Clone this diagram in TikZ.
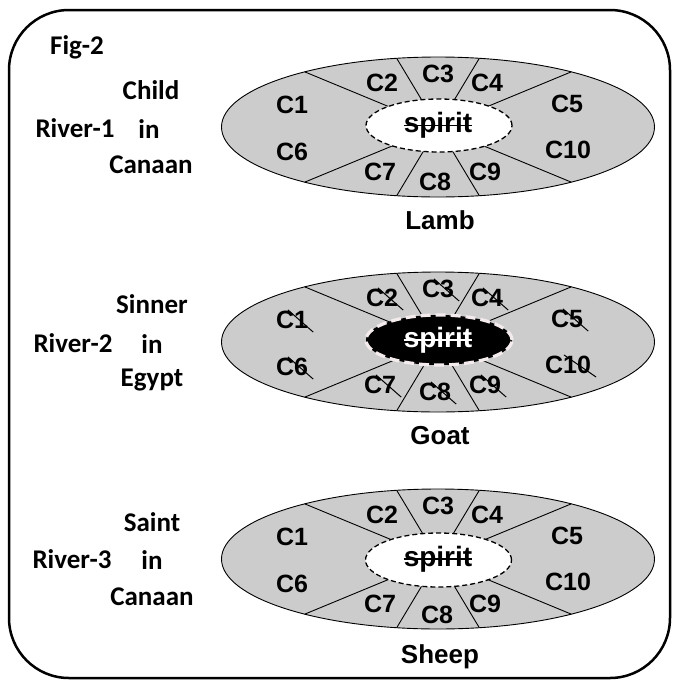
\documentclass[tikz,border=0pt]{standalone}
\usepackage{fontspec}
\setmainfont{Liberation Sans}
\newfontfamily\calfont{Carlito}
\usetikzlibrary{calc}
\definecolor{wheelgray}{HTML}{CCCCCC}
\definecolor{dashwhite}{HTML}{F4ECEC}
\tikzset{
  frame/.style={line width=2.5pt, rounded corners=60pt},
  wheel/.style={draw=black, line width=0.9pt, fill=wheelgray},
  ray/.style={line width=0.9pt},
  hub/.style={draw=black, line width=1.3pt, fill=white, dash pattern=on 5pt off 3pt},
  darkhub/.style={draw=dashwhite, line width=3.2pt, fill=black, dash pattern=on 10pt off 5pt},
  clab/.style={font=\fontsize{25}{28}\selectfont\bfseries, inner sep=0pt},
  spiritlab/.style={font=\fontsize{28}{32}\selectfont\bfseries, inner sep=0pt},
  namelab/.style={font=\fontsize{26}{30}\selectfont\bfseries, inner sep=0pt},
  sidelab/.style={font=\calfont\fontsize{27}{32}\selectfont\bfseries, inner sep=0pt},
  strike/.style={line width=1.3pt},
  cross/.style={line width=1pt},
}
\newcommand\wheelbase[2]{% #1 centre y, #2 prefix
  \coordinate (#2c) at (438,#1);
  \draw[wheel] (#2c) ellipse [x radius=216.5pt, y radius=70pt];
  \foreach \t in {52,79,101,128} {
    \draw[ray] (#2c) -- ++({216.5*cos(\t)},{70*sin(\t)});
    \draw[ray] (#2c) -- ++({216.5*cos(\t)},{-70*sin(\t)});
  }
}
\begin{document}
\begin{tikzpicture}[x=1pt,y=-1pt]
\useasboundingbox (0,0) rectangle (673,681);
\draw[frame] (9,10) rectangle (670,678);

\node[sidelab] (fig) at (77,47) {Fig-2};

% ---------- wheel 1 ----------
\wheelbase{127}{a}
\draw[hub] ($(ac)+(1,-1.5)$) ellipse [x radius=73pt, y radius=26.5pt];
\node[spiritlab] (aspirit) at ($(ac)+(0,-1.5)$) {spirit};
\draw[strike] (aspirit.west) -- (aspirit.east);
\foreach \lab/\dx/\dy in {C1/-146/-22, C2/-56/-44, C3/0/-53, C4/49/-44, C5/129/-23,
  C6/-146/25, C7/-58/45, C8/-3/55, C9/47/45, C10/130/23}
  \node[clab] (a\lab) at ($(ac)+(\dx,\dy)$) {\lab};
\node[namelab] (lamb) at ($(ac)+(2,93)$) {Lamb};
\node[sidelab] (a1) at (151,90) {Child};
\node[sidelab] (a2) at (75,128) {River-1};
\node[sidelab] (a3) at (149,129) {in};
\node[sidelab] (a4) at (151,165) {Canaan};

% ---------- wheel 2 ----------
\wheelbase{342}{b}
\draw[darkhub] ($(bc)+(1,-2)$) ellipse [x radius=73pt, y radius=25pt];
\node[spiritlab, text=white] (bspirit) at ($(bc)+(0,-2)$) {spirit};
\draw[strike, white] (bspirit.west) -- (bspirit.east);
\foreach \lab/\dx/\dy in {C1/-146/-22, C2/-56/-44, C3/0/-53, C4/49/-44, C5/129/-23,
  C6/-146/25, C7/-58/43, C8/-3/50, C9/47/43, C10/130/23} {
  \node[clab] (b\lab) at ($(bc)+(\dx,\dy)$) {\lab};
  \draw[cross] ($(b\lab.north)+(-4,-1)$) -- ($(b\lab.south east)+(5,3)$);
}
\node[namelab] (goat) at ($(bc)+(2,94)$) {Goat};
\node[sidelab] (b1) at (152,304) {Sinner};
\node[sidelab] (b2) at (73,343) {River-2};
\node[sidelab] (b3) at (152,344) {in};
\node[sidelab] (b4) at (152,380) {Egypt};

% ---------- wheel 3 ----------
\wheelbase{559}{c}
\draw[hub] ($(cc)+(0.5,1)$) ellipse [x radius=73pt, y radius=27pt];
\node[spiritlab] (cspirit) at ($(cc)+(0,0)$) {spirit};
\draw[strike] (cspirit.west) -- (cspirit.east);
\foreach \lab/\dx/\dy in {C1/-146/-22, C2/-56/-44, C3/0/-53, C4/49/-44, C5/129/-23,
  C6/-146/25, C7/-58/45, C8/-1/56, C9/47/45, C10/130/23}
  \node[clab] (c\lab) at ($(cc)+(\dx,\dy)$) {\lab};
\node[namelab] (sheep) at ($(cc)+(2,98)$) {Sheep};
\node[sidelab] (c1) at (152,522) {Saint};
\node[sidelab] (c2) at (72,559) {River-3};
\node[sidelab] (c3) at (152,560) {in};
\node[sidelab] (c4) at (152,597) {Canaan};
\end{tikzpicture}
\end{document}
